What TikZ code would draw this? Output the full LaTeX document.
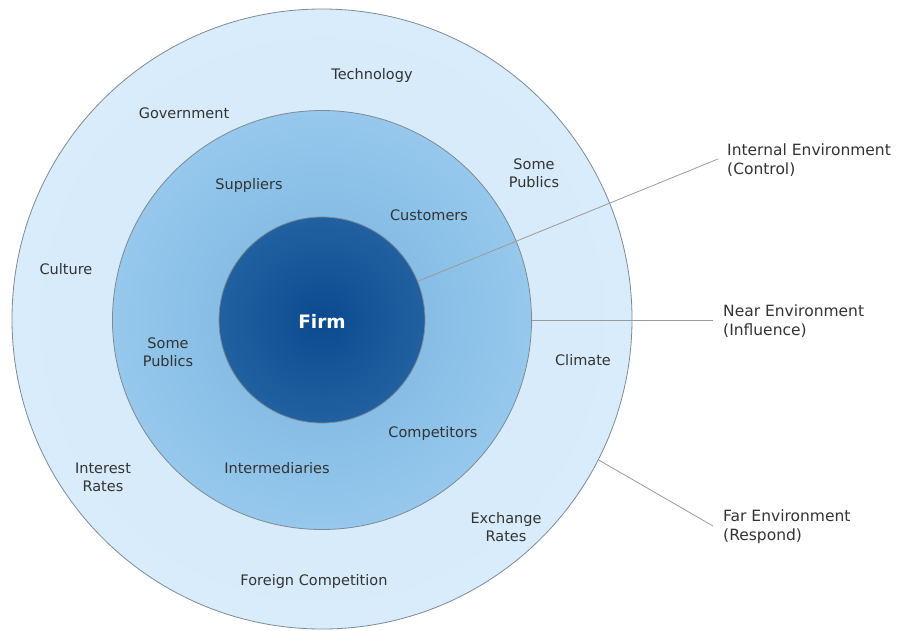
\documentclass[tikz,border=0pt]{standalone}
\usepackage{fontspec}
\setmainfont{DejaVu Sans}
\usetikzlibrary{calc}
\definecolor{outerc}{HTML}{D5EAFB}
\definecolor{outeredge}{HTML}{EAF5FE}
\definecolor{midc}{HTML}{96C8EC}
\definecolor{midin}{HTML}{78B3E0}
\definecolor{innerc}{HTML}{0C4A90}
\definecolor{inneredge}{HTML}{2161A0}
\definecolor{ringline}{HTML}{7E8A96}
\definecolor{txt}{HTML}{333333}
\definecolor{leader}{HTML}{9A9A9A}
\tikzset{
  ring/.style={draw=ringline, line width=0.8pt},
  lbl/.style={text=txt, font=\fontsize{14.5}{18}\selectfont, align=center, inner sep=0pt},
  side/.style={text=txt, font=\fontsize{15.5}{19}\selectfont, align=left, anchor=west, inner sep=0pt},
  leaderline/.style={draw=leader, line width=0.8pt}
}
\begin{document}
\begin{tikzpicture}[x=1pt,y=-1pt]
\useasboundingbox (0,0) rectangle (901,630);
% rings
\node[ring, circle, minimum size=620pt, inner sep=0pt, inner color=outerc, outer color=outerc!85!outeredge] (far) at (322,319) {};
\node[ring, circle, minimum size=419pt, inner sep=0pt, inner color=midin, outer color=midc] (near) at (322,320) {};
\node[ring, circle, minimum size=206pt, inner sep=0pt, inner color=innerc, outer color=inneredge] (firm) at (322,320) {};
\node[text=white, font=\fontsize{18.5}{20}\selectfont\bfseries, inner sep=0pt] (firmlbl) at (322,321) {Firm};
% outer labels
\node[lbl] (tech) at (372,75) {Technology};
\node[lbl] (gov) at (184,113) {Government};
\node[lbl] (cult) at (66,269) {Culture};
\node[lbl] (spo) at (534,173) {Some\\Publics};
\node[lbl] (clim) at (583,360) {Climate};
\node[lbl] (intr) at (103,477) {Interest\\Rates};
\node[lbl] (exch) at (506,527) {Exchange\\Rates};
\node[lbl] (foreign) at (314,581) {Foreign Competition};
% middle labels
\node[lbl] (supp) at (249,185) {Suppliers};
\node[lbl] (cust) at (429,215) {Customers};
\node[lbl] (spi) at (168,352) {Some\\Publics};
\node[lbl] (comp) at (433,433) {Competitors};
\node[lbl] (inter) at (277,468) {Intermediaries};
% side labels
\node[side] (internal) at (727,160) {Internal Environment\\(Control)};
\node[side] (nearl) at (723,321) {Near Environment\\(Influence)};
\node[side] (farl) at (723,527) {Far Environment\\(Respond)};
% leader lines
\coordinate (a1) at (718,159);
\coordinate (a2) at (713,320);
\coordinate (a3) at (713,526);
\draw[leaderline] (firm.22) -- (a1);
\draw[leaderline] (near.0) -- (a2);
\draw[leaderline] (far.-27) -- (a3);
\end{tikzpicture}
\end{document}
